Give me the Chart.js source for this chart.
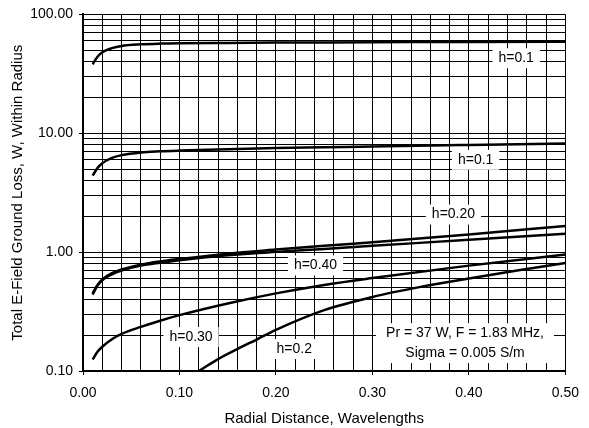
<!DOCTYPE html>
<html>
<head>
<meta charset="utf-8">
<script src="https://cdn.jsdelivr.net/npm/chart.js@4"></script>
<style>
  html, body { margin: 0; padding: 0; background: #fff; }
  canvas { display: block; }
</style>
</head>
<body>
<canvas id="ground-loss" width="589" height="428"></canvas>
<script>
// ==================================================
// DATA
// ==================================================
// radial distance in wavelengths
const radialDist = [0.01, 0.015, 0.02, 0.03, 0.04, 0.06, 0.08, 0.1, 0.15, 0.2, 0.25, 0.3, 0.4, 0.5];
const radialDistLow = [0.12, 0.14, 0.16, 0.18, 0.2, 0.25, 0.3, 0.35, 0.4, 0.45, 0.5];

// ground loss in watts, within radius
const lossTop = [38, 44, 48, 52, 54.3, 56, 56.8, 57.2, 57.6, 57.9, 58.1, 58.3, 58.7, 59];
const lossSecond = [4.4, 5.1, 5.6, 6.2, 6.55, 6.9, 7.05, 7.15, 7.35, 7.5, 7.62, 7.75, 7.98, 8.2];
const lossH020 = [0.45, 0.53, 0.59, 0.665, 0.715, 0.785, 0.835, 0.875, 0.97, 1.05, 1.13, 1.21, 1.41, 1.66];
const lossH040 = [0.44, 0.52, 0.58, 0.65, 0.7, 0.77, 0.815, 0.855, 0.94, 1.005, 1.065, 1.13, 1.27, 1.43];
const lossH030 = [0.125, 0.145, 0.16, 0.185, 0.205, 0.235, 0.265, 0.295, 0.37, 0.45, 0.53, 0.605, 0.77, 0.955];
const lossH02 = [0.1, 0.126, 0.153, 0.184, 0.222, 0.325, 0.42, 0.51, 0.6, 0.7, 0.81];

// log axis ticks (1..9 per decade)
const yTicks = [
  0.1, 0.2, 0.3, 0.4, 0.5, 0.6, 0.7, 0.8, 0.9,
  1, 2, 3, 4, 5, 6, 7, 8, 9,
  10, 20, 30, 40, 50, 60, 70, 80, 90,
  100,
];
const yMajor = [0.1, 1, 10, 100];
const xMajor = [0, 0.1, 0.2, 0.3, 0.4, 0.5];

// curve labels
const curveLabels = ["h=0.1", "h=0.1", "h=0.20", "h=0.40", "h=0.30", "h=0.2"];
const noteLines = ["Pr = 37 W, F = 1.83 MHz,", "Sigma = 0.005 S/m"];

// ==================================================
// HELPERS
// ==================================================
const FONT = "'Liberation Sans', Arial, sans-serif";

const toPoints = (xs, ys) => xs.map((x, i) => ({ x: x, y: ys[i] }));

const isMajorX = (v) => xMajor.some((m) => Math.abs(m - v) < 1e-6);
const isMajorY = (v) => yMajor.some((m) => Math.abs(m - v) < 1e-9);

const curve = (label, xs, ys) => ({
  label: label,
  data: toPoints(xs, ys),
  borderColor: "#000",
  borderWidth: 2.5,
  pointRadius: 0,
  fill: false,
  cubicInterpolationMode: "monotone",
});

// white boxed text placed in data coordinates
const labelBoxes = {
  id: "labelBoxes",
  afterDatasetsDraw(chart, args, opts) {
    const ctx = chart.ctx;
    const xs = chart.scales.x;
    const ys = chart.scales.y;
    ctx.save();
    ctx.font = `14px ${FONT}`;
    ctx.textAlign = "center";
    ctx.textBaseline = "middle";
    opts.items.forEach((item) => {
      const cx = xs.getPixelForValue(item.x);
      const lines = item.lines;
      const tops = item.y.map((v) => ys.getPixelForValue(v));
      const w = Math.max(...lines.map((t) => ctx.measureText(t).width)) + item.padX * 2;
      const top = Math.min(...tops) - 10;
      const bottom = Math.max(...tops) + 10;
      ctx.fillStyle = "#fff";
      ctx.fillRect(cx - w / 2, top, w, bottom - top);
      ctx.fillStyle = "#000";
      lines.forEach((t, i) => ctx.fillText(t, cx, tops[i]));
    });
    ctx.restore();
  },
};

// ==================================================
// CHART
// ==================================================
const ctx = document.getElementById("ground-loss").getContext("2d");

new Chart(ctx, {
  type: "line",
  data: {
    datasets: [
      curve(curveLabels[0], radialDist, lossTop),
      curve(curveLabels[1], radialDist, lossSecond),
      curve(curveLabels[2], radialDist, lossH020),
      curve(curveLabels[3], radialDist, lossH040),
      curve(curveLabels[4], radialDist, lossH030),
      curve(curveLabels[5], radialDistLow, lossH02),
    ],
  },
  plugins: [labelBoxes],
  options: {
    responsive: false,
    animation: false,
    layout: { padding: { left: 0, right: 16, top: 13, bottom: 0 } },
    plugins: {
      legend: { display: false },
      tooltip: { enabled: false },
      labelBoxes: {
        items: [
          { lines: [curveLabels[0]], x: 0.449, y: [42.8], padX: 6 },
          { lines: [curveLabels[1]], x: 0.407, y: [5.98], padX: 6 },
          { lines: [curveLabels[2]], x: 0.384, y: [2.07], padX: 6 },
          { lines: [curveLabels[3]], x: 0.241, y: [0.773], padX: 6 },
          { lines: [curveLabels[4]], x: 0.112, y: [0.193], padX: 6 },
          { lines: [curveLabels[5]], x: 0.219, y: [0.153], padX: 6 },
          { lines: noteLines, x: 0.396, y: [0.208, 0.1415], padX: 10 },
        ],
      },
    },
    scales: {
      x: {
        type: "linear",
        min: 0,
        max: 0.5,
        afterFit: (scale) => { scale.height = 57; },
        ticks: {
          stepSize: 0.02,
          autoSkip: false,
          maxRotation: 0,
          padding: 10,
          color: "#000",
          font: { family: FONT, size: 14 },
          callback: (v) => (isMajorX(v) ? v.toFixed(2) : ""),
        },
        grid: {
          color: "#000",
          lineWidth: 1,
          tickLength: 4,
          tickColor: (c) => (c.tick && isMajorX(c.tick.value) ? "#000" : "rgba(0,0,0,0)"),
        },
        border: { color: "#000", width: 2 },
        title: {
          display: true,
          text: "Radial Distance, Wavelengths",
          color: "#000",
          font: { family: FONT, size: 15 },
          padding: { top: 0, bottom: 0 },
        },
      },
      y: {
        type: "logarithmic",
        min: 0.1,
        max: 100,
        afterFit: (scale) => { scale.width = 83; },
        afterBuildTicks: (scale) => {
          scale.ticks = yTicks.map((v) => ({ value: v, major: isMajorY(v) }));
        },
        ticks: {
          autoSkip: false,
          padding: 6,
          color: "#000",
          font: { family: FONT, size: 14 },
          callback: (v) => (isMajorY(v) ? Number(v).toFixed(2) : ""),
        },
        grid: {
          color: "#000",
          lineWidth: 1,
          tickLength: 4,
          tickColor: (c) => (c.tick && isMajorY(c.tick.value) ? "#000" : "rgba(0,0,0,0)"),
        },
        border: { color: "#000", width: 2 },
        title: {
          display: true,
          text: "Total E-Field Ground Loss, W, Within Radius",
          color: "#000",
          font: { family: FONT, size: 15 },
          padding: { top: 9, bottom: 0 },
        },
      },
    },
  },
});
</script>
</body>
</html>
